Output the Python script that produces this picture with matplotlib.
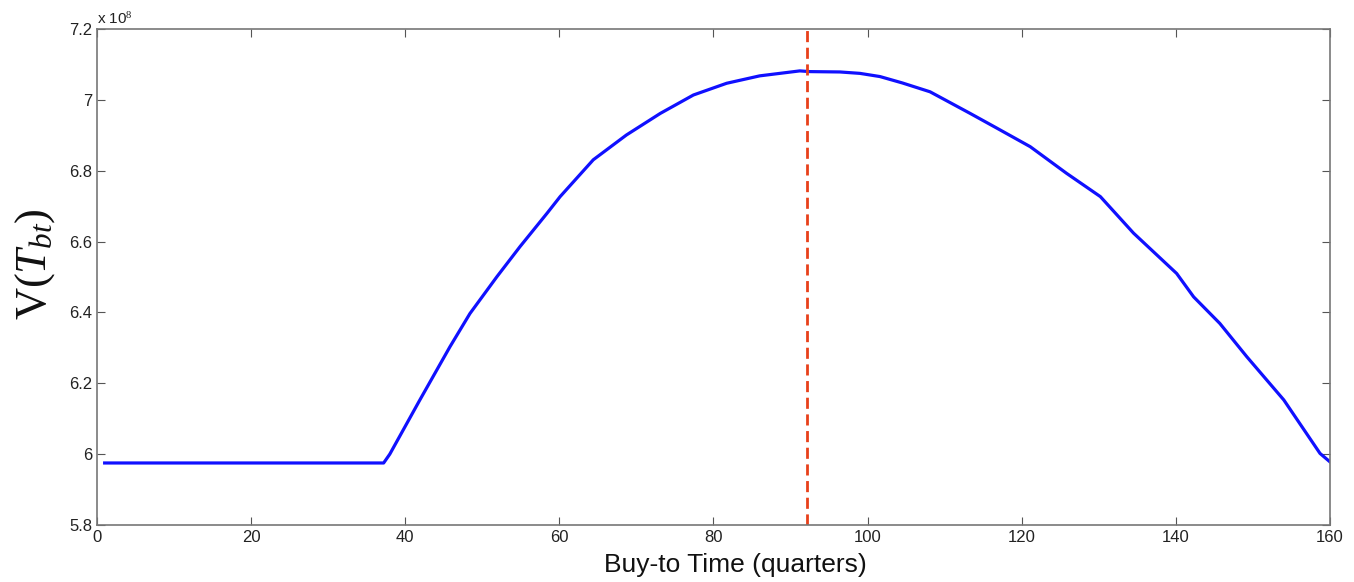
import matplotlib.pyplot as plt
from matplotlib.ticker import FuncFormatter

plt.rcParams['font.family'] = ['Liberation Sans', 'DejaVu Sans']
plt.rcParams['mathtext.fontset'] = 'custom'
plt.rcParams['mathtext.rm'] = 'Liberation Serif'
plt.rcParams['mathtext.it'] = 'Liberation Serif:italic'

# buy-to time (quarters) and value V(T_bt) in units of 1e8
quarters = [1, 10, 20, 30, 37.2, 38.0, 41.9, 45.8, 48.4, 51.9, 54.9, 58.4, 60.1,
            64.4, 68.7, 73.1, 77.4, 81.7, 86.0, 91.2, 92.5, 96.4, 99.0, 101.6,
            104.5, 108.1, 113.3, 116.8, 121.1, 125.8, 130.2, 134.5, 140.1, 142.3,
            145.7, 149.2, 154.0, 158.7, 160]
value = [5.975, 5.975, 5.975, 5.975, 5.975, 6.0, 6.153, 6.303, 6.397, 6.501, 6.586,
         6.680, 6.727, 6.831, 6.901, 6.962, 7.014, 7.047, 7.068, 7.082, 7.080,
         7.079, 7.075, 7.066, 7.048, 7.023, 6.962, 6.920, 6.868, 6.793, 6.727,
         6.624, 6.510, 6.444, 6.369, 6.275, 6.153, 6.002, 5.978]
optimum = 92.1

fig = plt.figure(figsize=(13.54, 5.82), dpi=100)
ax = fig.add_axes([0.0716, 0.098, 0.9107, 0.852])

ax.plot(quarters, value, color='#1010ff', lw=2.3)
ax.axvline(optimum, color='#e8401a', lw=2.0, ls=(0, (4, 2)))

ax.set_xlim(0, 160)
ax.set_ylim(5.8, 7.2)
ax.set_xticks(range(0, 161, 20))
ax.set_yticks([5.8, 6.0, 6.2, 6.4, 6.6, 6.8, 7.0, 7.2])
ax.yaxis.set_major_formatter(FuncFormatter(lambda v, p: '%g' % round(v, 1)))
ax.tick_params(direction='in', top=True, right=True, labelsize=12,
               colors='#555555', labelcolor='#222222', length=6)
for s in ax.spines.values():
    s.set_color('#777777')
    s.set_linewidth(1.2)

ax.text(0.0, 1.005, r'x 10$^{8}$', transform=ax.transAxes, fontsize=11,
        color='#222222', ha='left', va='bottom')

ax.set_xlabel('Buy-to Time (quarters)', fontsize=19, color='#111111')
ax.xaxis.set_label_coords(0.518, -0.056)
ax.set_ylabel(r'V($\mathit{T}_{bt}$)', fontsize=32, family='Liberation Serif',
              color='#111111')
ax.yaxis.set_label_coords(-0.032, 0.526)

fig.savefig('out.png', dpi=100)
